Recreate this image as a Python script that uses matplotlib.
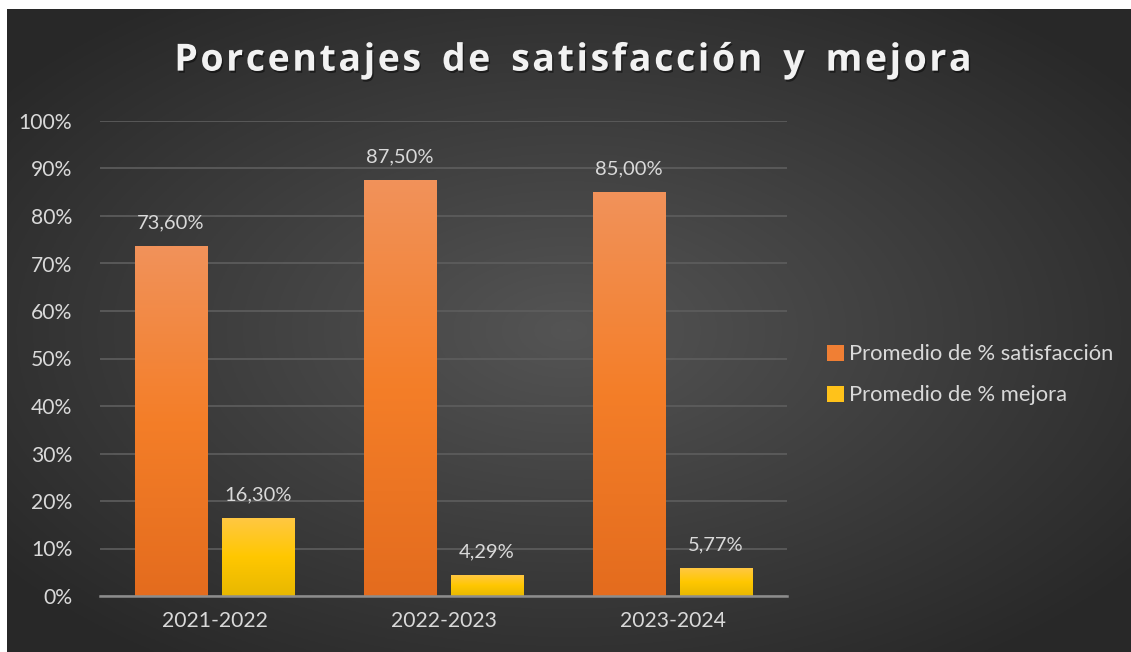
import numpy as np
import matplotlib
matplotlib.use("Agg")
import matplotlib.pyplot as plt
import matplotlib.patheffects as pe
from matplotlib.patches import Patch

years = ["2021-2022", "2022-2023", "2023-2024"]
satisfaccion = [0.736, 0.875, 0.85]
mejora = [0.163, 0.0429, 0.0577]
series_names = ["Promedio de % satisfacción", "Promedio de % mejora"]
title = "Porcentajes de satisfacción y mejora"

plt.rcParams['font.family'] = ['Lato', 'DejaVu Sans']

fig = plt.figure(figsize=(11.31, 6.52), dpi=100)
fig.patch.set_facecolor("white")

# dark radial background
bg = fig.add_axes([7 / 1131, 0, 1 - 7 / 1131, 1 - 9 / 652])
yy, xx = np.mgrid[-1:1:300j, -1:1:500j]
r = np.sqrt(xx ** 2 + yy ** 2)
shade = 0.33 - 0.17 * np.clip(r / 1.25, 0, 1)
bg.imshow(np.dstack([shade] * 3), aspect="auto", extent=[0, 1, 0, 1])
bg.set_axis_off()

ax = fig.add_axes([100 / 1131, 1 - 596 / 652, 687 / 1131, (596 - 121) / 652])
ax.patch.set_alpha(0)

def grad(top, mid, bot):
    t = np.array(top) / 255
    m = np.array(mid) / 255
    b = np.array(bot) / 255
    s = np.linspace(0, 1, 100)[:, None]
    up = t + (m - t) * np.clip(s * 2, 0, 1)
    down = m + (b - m) * np.clip(s * 2 - 1, 0, 1)
    g = np.where(s < 0.5, up, down)
    return g[:, None, :]

orange = grad((241, 146, 90), (244, 126, 40), (228, 108, 30))
yellow = grad((255, 200, 66), (255, 199, 0), (232, 184, 0))

w = 0.315
off = 0.19
x = np.arange(len(years))
for i in x:
    for val, d, g in [(satisfaccion[i], -off, orange), (mejora[i], off, yellow)]:
        ax.imshow(g, aspect="auto", extent=[i + d - w / 2, i + d + w / 2, 0, val],
                  zorder=3, interpolation="bilinear")
        lbl = f"{val * 100:.2f}%".replace(".", ",")
        ax.annotate(lbl, (i + d, val), xytext=(0, 11), textcoords="offset points",
                    ha="center", va="bottom", color="#d9d9d9", fontsize=14.5)

ax.set_xlim(-0.5, 2.5)
ax.set_ylim(0, 1)
ax.set_yticks(np.arange(0, 1.01, 0.1))
ax.set_yticklabels([f"{int(round(v * 100))}%" for v in np.arange(0, 1.01, 0.1)])
ax.set_xticks(x)
ax.set_xticklabels(years)
ax.tick_params(length=0, colors="#d9d9d9", labelsize=15.2)
ax.tick_params(axis="y", pad=20)
ax.tick_params(axis="x", pad=11)
ax.grid(axis="y", color="#5e5e5e", linewidth=1.2, zorder=0)
ax.set_axisbelow(True)
for s in ["top", "right", "left"]:
    ax.spines[s].set_visible(False)
ax.spines["bottom"].set_color("#8c8c8c")
ax.spines["bottom"].set_linewidth(1.8)
ax.spines["bottom"].set_zorder(4)

# title with letter spacing, drawn char by char
renderer = fig.canvas.get_renderer()
tkw = dict(fontsize=27, fontweight="bold", color="#f2f2f2",
           family=["Open Sans", "DejaVu Sans"], va="center", ha="left")
def char_w(c):
    if c == " ":
        a = fig.text(0, 0, "a a", **tkw)
        b = fig.text(0, 0, "aa", **tkw)
        wd = a.get_window_extent(renderer).width - b.get_window_extent(renderer).width
        a.remove()
        b.remove()
        return wd + 6
    t = fig.text(0, 0, c, **tkw)
    wd = t.get_window_extent(renderer).width
    t.remove()
    return wd
widths = [char_w(c) for c in title]
spacing = 2.6
total = sum(widths) + spacing * (len(title) - 1)
xpos = 573 - total / 2
shadow = [pe.withSimplePatchShadow(offset=(1, -1.5), shadow_rgbFace="black", alpha=0.45)]
for c, wd in zip(title, widths):
    if c != " ":
        fig.text(xpos / 1131, 0.907, c, path_effects=shadow, **tkw)
    xpos += wd + spacing

handles = [Patch(facecolor="#f07f34", edgecolor="none"),
           Patch(facecolor="#ffc21a", edgecolor="none")]
leg = fig.legend(handles, series_names, loc="center left", bbox_to_anchor=(0.714, 0.425),
                 frameon=False, fontsize=15.8, labelcolor="#d9d9d9",
                 handlelength=0.75, handleheight=0.75, handletextpad=0.25, labelspacing=0.95)

fig.savefig("out.png", dpi=100, facecolor=fig.get_facecolor())
